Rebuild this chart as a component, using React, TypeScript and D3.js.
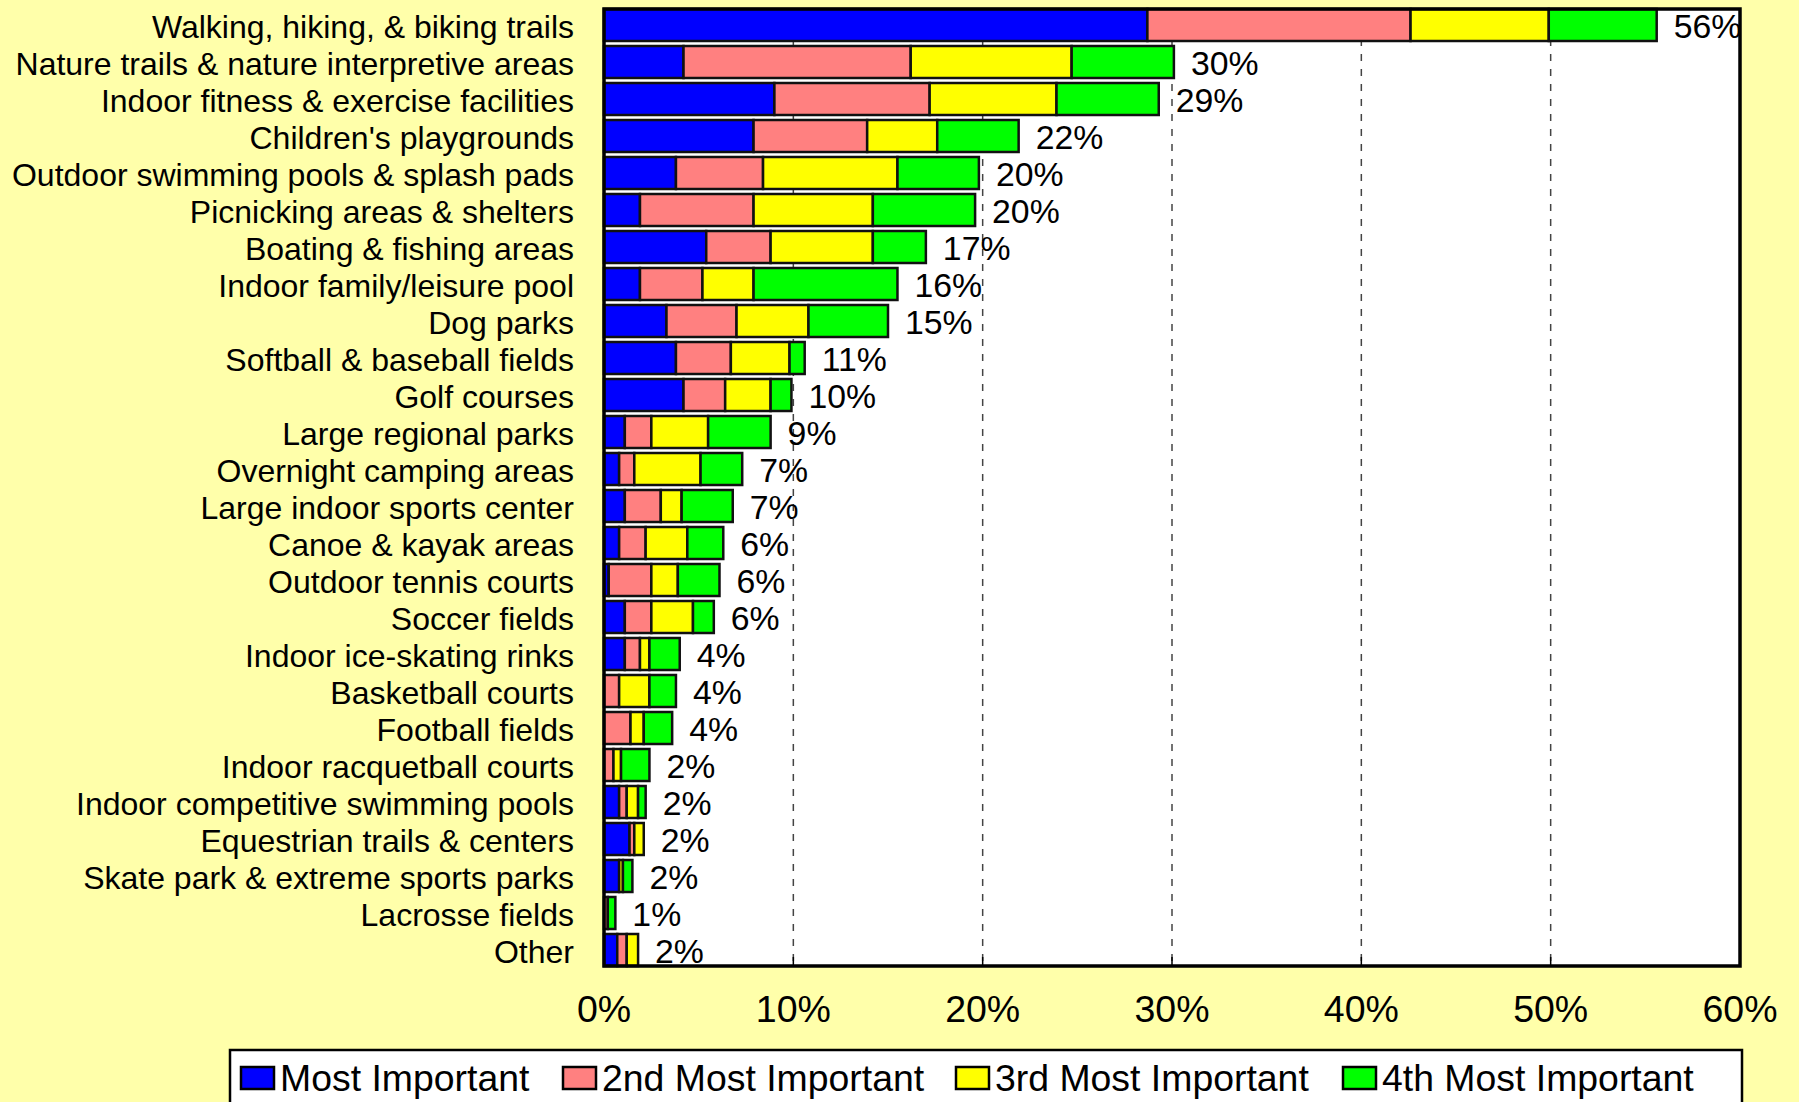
import { useEffect, useRef } from 'react'
import * as d3 from 'd3'

const categories = [
  'Walking, hiking, & biking trails',
  'Nature trails & nature interpretive areas',
  'Indoor fitness & exercise facilities',
  "Children's playgrounds",
  'Outdoor swimming pools & splash pads',
  'Picnicking areas & shelters',
  'Boating & fishing areas',
  'Indoor family/leisure pool',
  'Dog parks',
  'Softball & baseball fields',
  'Golf courses',
  'Large regional parks',
  'Overnight camping areas',
  'Large indoor sports center',
  'Canoe & kayak areas',
  'Outdoor tennis courts',
  'Soccer fields',
  'Indoor ice-skating rinks',
  'Basketball courts',
  'Football fields',
  'Indoor racquetball courts',
  'Indoor competitive swimming pools',
  'Equestrian trails & centers',
  'Skate park & extreme sports parks',
  'Lacrosse fields',
  'Other',
]

const mostImportant = [28.7, 4.2, 9.0, 7.9, 3.8, 1.9, 5.4, 1.9, 3.3, 3.8, 4.2, 1.1, 0.8, 1.1, 0.8, 0.25, 1.1, 1.1, 0, 0, 0, 0.8, 1.35, 0.8, 0, 0.7]
const secondMost = [13.9, 12.0, 8.2, 6.0, 4.6, 6.0, 3.4, 3.3, 3.7, 2.9, 2.2, 1.4, 0.8, 1.9, 1.4, 2.25, 1.4, 0.8, 0.8, 1.4, 0.5, 0.4, 0.25, 0, 0.2, 0.5]
const thirdMost = [7.3, 8.5, 6.7, 3.7, 7.1, 6.3, 5.4, 2.7, 3.8, 3.1, 2.4, 3.0, 3.5, 1.1, 2.2, 1.4, 2.2, 0.5, 1.6, 0.7, 0.4, 0.6, 0.5, 0.2, 0, 0.6]
const fourthMost = [5.7, 5.4, 5.4, 4.3, 4.3, 5.4, 2.8, 7.6, 4.2, 0.8, 1.1, 3.3, 2.2, 2.7, 1.9, 2.2, 1.1, 1.6, 1.4, 1.5, 1.5, 0.4, 0, 0.5, 0.4, 0]

const seriesNames = ['Most Important', '2nd Most Important', '3rd Most Important', '4th Most Important']
const seriesColors = ['#0000FF', '#FF8080', '#FFFF00', '#00FF00']
const xTicks = [0, 10, 20, 30, 40, 50, 60]

const W = 1799
const H = 1102

export default function App() {
  const svgRef = useRef<SVGSVGElement>(null)

  useEffect(() => {
    if (!svgRef.current) return
    const svg = d3.select(svgRef.current)
    svg.selectAll('*').remove()

    const font = 'Liberation Sans, Arial, Helvetica, sans-serif'
    const margin = { top: 9, right: 59, bottom: 136, left: 604 }
    const w = W - margin.left - margin.right
    const h = H - margin.top - margin.bottom

    svg.append('rect').attr('width', W).attr('height', H).attr('fill', '#FFFFAA')

    const rows = categories.map((name, i) => ({
      name,
      vals: [mostImportant[i], secondMost[i], thirdMost[i], fourthMost[i]],
    }))

    const x = d3.scaleLinear().domain([0, 60]).range([0, w])
    const y = d3
      .scaleBand()
      .domain(categories)
      .range([0, h])
      .paddingInner(5 / 37)
      .paddingOuter(0)

    const g = svg.append('g').attr('transform', `translate(${margin.left},${margin.top})`)

    // plot background
    g.append('rect').attr('width', w).attr('height', h).attr('fill', '#fff')

    // dashed gridlines
    g.selectAll('line.grid')
      .data(xTicks.filter((t) => t > 0 && t < 60))
      .enter()
      .append('line')
      .attr('x1', (d) => x(d))
      .attr('x2', (d) => x(d))
      .attr('y1', 0)
      .attr('y2', h)
      .attr('stroke', '#444')
      .attr('stroke-width', 1.5)
      .attr('stroke-dasharray', '7 8')

    // inner ticks at bottom
    g.selectAll('line.tick')
      .data(xTicks)
      .enter()
      .append('line')
      .attr('x1', (d) => x(d))
      .attr('x2', (d) => x(d))
      .attr('y1', h)
      .attr('y2', h - 9)
      .attr('stroke', '#000')
      .attr('stroke-width', 1.5)

    // stacked bars
    const stack = d3.stack<{ name: string; vals: number[] }, number>()
      .keys([0, 1, 2, 3])
      .value((d, k) => d.vals[k])
    const layers = stack(rows)

    layers.forEach((layer, k) => {
      g.selectAll(`rect.s${k}`)
        .data(layer.filter((d) => d[1] - d[0] > 0))
        .enter()
        .append('rect')
        .attr('x', (d) => x(d[0]))
        .attr('y', (d) => y(d.data.name) as number)
        .attr('width', (d) => x(d[1]) - x(d[0]))
        .attr('height', y.bandwidth())
        .attr('fill', seriesColors[k])
        .attr('stroke', '#111')
        .attr('stroke-width', 2.5)
    })

    // total labels
    g.selectAll('text.total')
      .data(rows)
      .enter()
      .append('text')
      .attr('x', (d) => x(d3.sum(d.vals)) + 17)
      .attr('y', (d) => (y(d.name) as number) + y.bandwidth() / 2)
      .attr('dy', '0.38em')
      .attr('font-family', font)
      .attr('font-size', 33.8)
      .attr('fill', '#000')
      .text((d) => `${Math.round(d3.sum(d.vals))}%`)

    // plot border
    g.append('rect')
      .attr('width', w)
      .attr('height', h)
      .attr('fill', 'none')
      .attr('stroke', '#000')
      .attr('stroke-width', 3.5)

    // category labels
    g.selectAll('text.cat')
      .data(categories)
      .enter()
      .append('text')
      .attr('x', -30)
      .attr('y', (d) => (y(d) as number) + y.bandwidth() / 2)
      .attr('dy', '0.4em')
      .attr('text-anchor', 'end')
      .attr('font-family', font)
      .attr('font-size', 32)
      .attr('fill', '#000')
      .text((d) => d)

    // x tick labels
    g.selectAll('text.xt')
      .data(xTicks)
      .enter()
      .append('text')
      .attr('x', (d) => x(d))
      .attr('y', h + 56)
      .attr('text-anchor', 'middle')
      .attr('font-family', font)
      .attr('font-size', 37.5)
      .attr('fill', '#000')
      .text((d) => `${d}%`)

    // legend
    const lg = svg.append('g')
    lg.append('rect')
      .attr('x', 230)
      .attr('y', 1050)
      .attr('width', 1512)
      .attr('height', 70)
      .attr('fill', '#fff')
      .attr('stroke', '#000')
      .attr('stroke-width', 2.5)
    const legendX = [241, 563, 956, 1343]
    seriesNames.forEach((name, k) => {
      lg.append('rect')
        .attr('x', legendX[k])
        .attr('y', 1067)
        .attr('width', 33)
        .attr('height', 22)
        .attr('fill', seriesColors[k])
        .attr('stroke', '#000')
        .attr('stroke-width', 2.5)
      lg.append('text')
        .attr('x', legendX[k] + 39)
        .attr('y', 1091)
        .attr('font-family', font)
        .attr('font-size', 37.4)
        .attr('fill', '#000')
        .text(name)
    })
  }, [])

  return (
    <div style={{ position: 'absolute', left: 0, top: 0 }}>
      <svg ref={svgRef} width={W} height={H} style={{ display: 'block' }} />
    </div>
  )
}
